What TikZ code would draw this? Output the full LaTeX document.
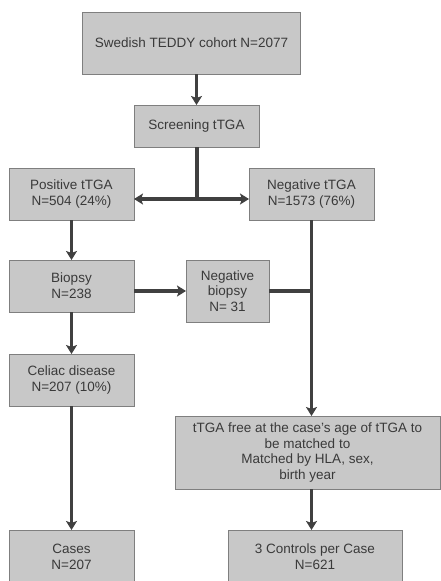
\documentclass[tikz,border=0pt]{standalone}
\usepackage{fontspec}
\setmainfont{Liberation Sans}
\usetikzlibrary{arrows.meta}
\definecolor{boxfill}{HTML}{C8C8C8}
\definecolor{boxline}{HTML}{7F7F7F}
\definecolor{arrowline}{HTML}{404040}
\definecolor{boxtext}{HTML}{3A3A3A}
\begin{document}
\begin{tikzpicture}[x=1pt,y=-1pt,inner sep=0pt,outer sep=0pt,line width=3.2pt,draw=arrowline,
>={Stealth[length=9pt,width=11pt,inset=2pt]},
flowbox/.style={draw=boxline,fill=boxfill,rectangle,line width=1pt,align=center,text=boxtext,
font=\fontsize{13.5}{15.7}\selectfont}]
\useasboundingbox (0,0) rectangle (440,581);
\draw (191.5,43) node[flowbox,minimum width=218,minimum height=62] (cohort) {Swedish TEDDY cohort N=2077};
\draw (196.5,126) node[flowbox,minimum width=125,minimum height=42] (screen) {Screening tTGA};
\draw (71.5,194) node[flowbox,minimum width=125,minimum height=52] (pos) {Positive tTGA\\N=504 (24\%)};
\draw (311.5,194) node[flowbox,minimum width=125,minimum height=52] (neg) {Negative tTGA\\N=1573 (76\%)};
\draw (71.5,286) node[flowbox,minimum width=125,minimum height=52] (biopsy) {Biopsy\\N=238};
\draw (227.5,291) node[flowbox,minimum width=83,minimum height=62] (negbio) {Negative\\biopsy\\N= 31};
\draw (71.5,380) node[flowbox,minimum width=125,minimum height=52] (celiac) {Celiac disease\\N=207 (10\%)};
\draw (307.5,452.5) node[flowbox,minimum width=265,minimum height=73] (tfree) {tTGA free at the case's age of tTGA to\\be matched to\\Matched by HLA, sex,\\birth year};
\draw (71.5,557) node[flowbox,minimum width=125,minimum height=54] (cases) {Cases\\N=207};
\draw (315,557) node[flowbox,minimum width=174,minimum height=54] (ctrl) {3 Controls per Case\\N=621};
\coordinate (split) at (197,199);
\draw[->] (screen.north |- cohort.south) -- (screen.north);
\draw (screen.south -| split) -- (split);
\draw[->] (split) -- (split -| pos.east);
\draw[->] (split) -- (split -| neg.west);
\draw[->] (pos.south) -- (biopsy.north);
\draw[->] (biopsy.east |- negbio.west) -- (negbio.west);
\draw (negbio.east) -- (negbio.east -| neg.south);
\draw[->] (neg.south) -- (neg.south |- tfree.north);
\draw[->] (biopsy.south) -- (celiac.north);
\draw[->] (celiac.south) -- (cases.north);
\draw[->] (tfree.south -| neg.south) -- (ctrl.north -| neg.south);
\end{tikzpicture}
\end{document}
